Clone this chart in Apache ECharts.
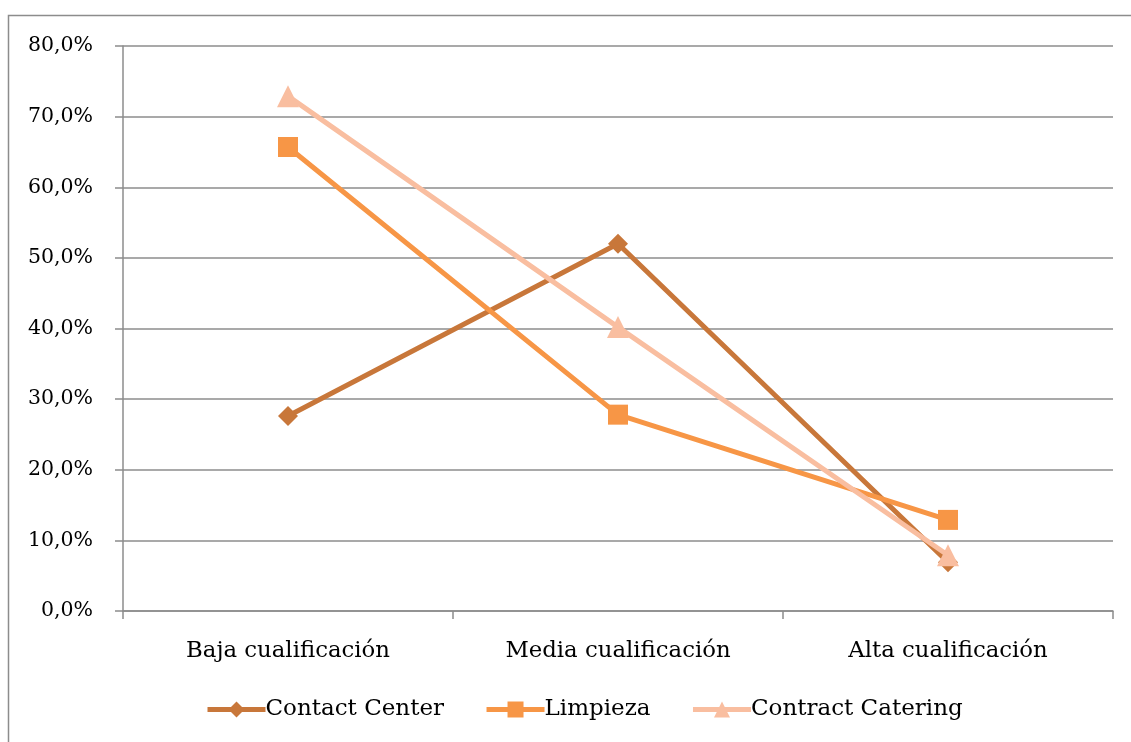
<!DOCTYPE html>
<html>
<head>
<meta charset="utf-8">
<style>
  html, body { margin: 0; padding: 0; background: #fff; }
  #chart { width: 1131px; height: 742px; }
</style>
<script src="https://cdn.jsdelivr.net/npm/echarts@6/dist/echarts.min.js"></script>
</head>
<body>
<div id="chart"></div>
<script>
// Qualification levels on the category axis
const categories = ['Baja cualificación', 'Media cualificación', 'Alta cualificación'];

// Share of workers per qualification level (%)
const contactCenter = [27.6, 52.0, 6.9];
const limpieza = [65.7, 27.8, 12.9];
const contractCatering = [72.9, 40.2, 7.9];

const seriesNames = ['Contact Center', 'Limpieza', 'Contract Catering'];

const FONT = '"DejaVu Serif", "Liberation Serif", serif';
const GRID_COLOR = '#8c8c8c';

const chart = echarts.init(document.getElementById('chart'), null, { renderer: 'canvas' });

function lineSeries(name, data, color, symbol, size) {
  return {
    name: name,
    type: 'line',
    data: data,
    symbol: symbol,
    symbolSize: size,
    showAllSymbol: true,
    lineStyle: { color: color, width: 5 },
    itemStyle: { color: color },
    emphasis: { disabled: true },
    animation: false
  };
}

chart.setOption({
  animation: false,
  backgroundColor: '#fff',
  textStyle: { fontFamily: FONT },
  graphic: [{
    type: 'rect',
    shape: { x: 8.5, y: 15.5, width: 1130, height: 740 },
    style: { fill: 'none', stroke: GRID_COLOR, lineWidth: 1.5 },
    silent: true
  }],
  grid: { left: 123, right: 18, top: 46, bottom: 131, containLabel: false },
  legend: {
    data: seriesNames,
    bottom: 16,
    left: 200,
    itemWidth: 58,
    itemHeight: 20,
    itemGap: 40,
    lineStyle: { width: 5 },
    textStyle: { fontFamily: FONT, fontSize: 23, color: '#000', padding: [0, 0, 0, -5] }
  },
  xAxis: {
    type: 'category',
    data: categories,
    boundaryGap: true,
    axisLine: { lineStyle: { color: GRID_COLOR, width: 1.5 } },
    axisTick: { show: true, length: 8, lineStyle: { color: GRID_COLOR, width: 1.5 } },
    axisLabel: { fontFamily: FONT, fontSize: 22.8, color: '#000', margin: 29 }
  },
  yAxis: {
    type: 'value',
    min: 0,
    max: 80,
    interval: 10,
    axisLine: { show: true, lineStyle: { color: GRID_COLOR, width: 1.5 } },
    axisTick: { show: true, length: 8, lineStyle: { color: GRID_COLOR, width: 1.5 } },
    splitLine: { lineStyle: { color: GRID_COLOR, width: 1.5 } },
    axisLabel: {
      fontFamily: FONT, fontSize: 20.5, color: '#000', margin: 30,
      formatter: v => v.toFixed(1).replace('.', ',') + '%'
    }
  },
  series: [
    lineSeries(seriesNames[0], contactCenter, '#c8773a', 'diamond', 20),
    lineSeries(seriesNames[1], limpieza, '#f79646', 'rect', 20),
    lineSeries(seriesNames[2], contractCatering, '#f9bea0', 'triangle', 22)
  ]
});
</script>
</body>
</html>
